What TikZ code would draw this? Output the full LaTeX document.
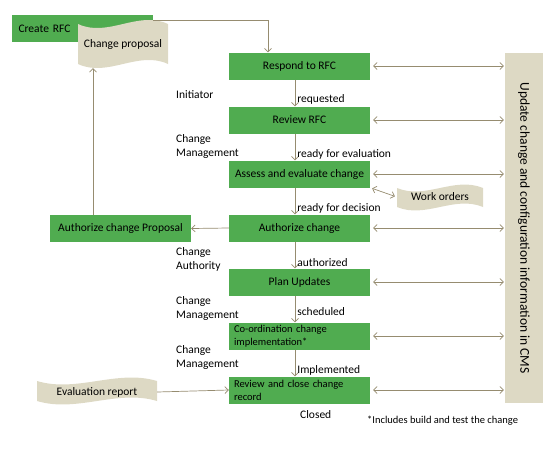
\documentclass[tikz,border=0pt]{standalone}
\usepackage{fontspec}
\setmainfont{Carlito}
\usetikzlibrary{arrows.meta,positioning}
\definecolor{stepgreen}{RGB}{80,172,80}
\definecolor{paper}{RGB}{221,217,196}
\definecolor{wire}{RGB}{150,140,112}
% wavy paper sheet: x1, y1, x2, y2, wave depth
\newcommand{\sheet}[5]{%
  \fill[paper] (#1,#2) .. controls ({#1+(#3-#1)/3},{#2+#5}) and ({#1+2*(#3-#1)/3},{#2-#5}) .. (#3,#2)
    -- (#3,#4) .. controls ({#1+2*(#3-#1)/3},{#4-#5}) and ({#1+(#3-#1)/3},{#4+#5}) .. (#1,#4) -- cycle;}

\begin{document}
\begin{tikzpicture}[x=1pt, y=-1pt, node distance=54pt, >={Straight Barb[length=3.5pt,width=7pt]},
    font=\fontsize{11.5}{14}\selectfont,
    stepbox/.style={rectangle, fill=stepgreen, minimum width=141pt, minimum height=27pt, inner sep=2pt},
    twoline/.style={text width=131pt, align=left, font=\fontsize{10.5}{13}\selectfont},
    link/.style={draw=wire, line width=0.7pt},
    role/.style={anchor=west, align=left, inner sep=0pt},
    state/.style={right, inner sep=2pt}]
  \useasboundingbox (0,0) rectangle (560,448);

  % main steps
  \node [stepbox] (respond) at (299.5,66) {Respond to RFC};
  \node [stepbox] (review) [below of=respond] {Review RFC};
  \node [stepbox] (assess) [below of=review] {Assess and evaluate change};
  \node [stepbox] (authorize) [below of=assess] {Authorize change};
  \node [stepbox] (plan) [below of=authorize] {Plan Updates};
  \node [stepbox, twoline] (coord) [below of=plan] {Co-ordination change\\implementation*};
  \node [stepbox, twoline] (close) [below of=coord] {Review and close change\\record};

  \node [stepbox, text width=128pt, align=left] (create) at (82.5,28.5) {Create RFC};
  \node [stepbox] (authprop) at (120.5,228.5) {Authorize change Proposal};

  % paper sheets
  \sheet{78}{24}{168}{64}{14}
  \sheet{397}{188}{483}{207}{12}
  \sheet{37}{381}{157}{401}{12}
  \node [minimum width=90pt, minimum height=48pt] (proposal) at (123,44) {Change proposal};
  \node [minimum width=86pt, minimum height=24pt] (work) at (440,197) {Work orders};
  \node [minimum width=120pt, minimum height=24pt] (evalrep) at (97,392) {Evaluation report};

  % CMS bar
  \node [fill=paper, minimum width=350pt, minimum height=38pt, rotate=-90,
         font=\fontsize{13.5}{15}\selectfont] (cms) at (524,228) {Update change and configuration information in CMS};

  % flow
  \foreach \from/\to/\tag/\where in {respond/review/requested/0.75, review/assess/ready for evaluation/0.78,
      assess/authorize/ready for decision/0.78, authorize/plan/authorized/0.78,
      plan/coord/scheduled/0.6, coord/close/Implemented/0.78}
    \draw [link, ->] ([xshift=-4.5pt]\from.south) -- node [state, pos=\where] {\tag} ([xshift=-4.5pt]\to.north);

  \foreach \n in {respond,review,assess,authorize,plan,coord,close}
    \draw [link, <->, shorten <=3pt, shorten >=1pt] (\n.east) -- (\n.east -| cms.south);

  \draw [link, ->] ([yshift=8.5pt]create.east) -| ([xshift=-31.5pt]respond.north);
  \draw [link, ->] (authorize.west) -- (authprop.east);
  \draw [link, ->] ([xshift=-27.5pt]authprop.north) -- ([xshift=-27.5pt]authprop.north |- proposal.south);
  \draw [link, <->, shorten <=2pt, shorten >=2pt] (assess.south east) -- (work.west);
  \draw [link, ->] (evalrep.east) -- (close.west);

  % roles
  \node [role] (initiator) at (176,95) {Initiator};
  \node [role] (mgmtone) at (176,146) {Change\\Management};
  \node [role] (authority) at (176,259) {Change\\Authority};
  \node [role] (mgmttwo) at (176,308) {Change\\Management};
  \node [role] (mgmtthree) at (176,357) {Change\\Management};

  \node [state] (closed) at (298,415) {Closed};
  \node [anchor=west, inner sep=0pt, font=\fontsize{10.5}{12}\selectfont] (note) at (367,421) {*Includes build and test the change};
\end{tikzpicture}
\end{document}
